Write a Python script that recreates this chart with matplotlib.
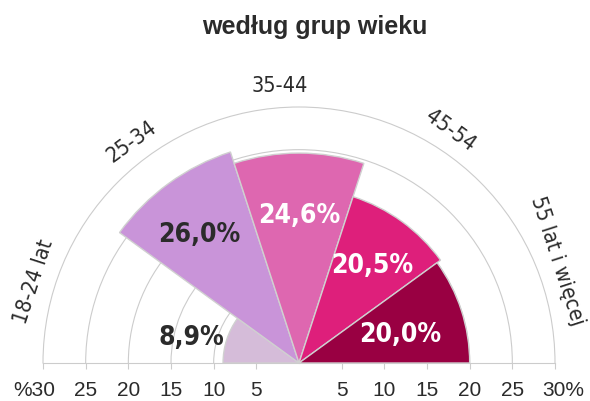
import numpy as np
import matplotlib as mpl
mpl.use('Agg')
import matplotlib.pyplot as plt
from matplotlib.markers import TICKDOWN

# data
groups = ['18-24 lat', '25-34', '35-44', '45-54', '55 lat i więcej']
values = [8.9, 26.0, 24.6, 20.5, 20.0]
value_labels = ['8,9%', '26,0%', '24,6%', '20,5%', '20,0%']
colors = ['#d5bcd9', '#c994d9', '#de67b0', '#de1f7b', '#990042']
label_colors = ['#2b2b2b', '#2b2b2b', 'white', 'white', 'white']
label_r = [12.9, 19.0, 17.2, 14.2, 12.3]
label_ang = [167, 128, 90, 53, 15.5]
group_ang = [163, 127, 94, 57, 21.5]
rticks = [5, 10, 15, 20, 25, 30]

plt.rcParams['font.family'] = ['Liberation Sans', 'DejaVu Sans']

W, H = 590, 401
fig = plt.figure(figsize=(W / 100, H / 100), dpi=100)
cx, cy, R = 299, 363, 256
# half-polar is centred vertically in a square box
ax = fig.add_axes([(cx - R) / W, (H - cy - R / 2) / H, 2 * R / W, 2 * R / H], projection='polar')
ax.set_thetamin(0)
ax.set_thetamax(180)
ax.set_ylim(0, 30)
ax.patch.set_visible(False)

n = len(values)
width = np.pi / n
theta = np.pi - width / 2 - width * np.arange(n)
ax.bar(theta, values, width=width, color=colors, edgecolor='#d0d0d0', linewidth=1.0, zorder=3)

ax.set_xticks([])
ax.set_yticks(rticks[:-1])
ax.set_yticklabels([])
ax.yaxis.grid(True, color='#cccccc', linewidth=0.8)
ax.xaxis.grid(False)
for s in ax.spines.values():
    s.set_color('#cccccc')
    s.set_linewidth(0.8)
ax.spines['inner'].set_visible(False)

# tick marks below baseline
tt = [0] * len(rticks) + [np.pi] * len(rticks)
ax.plot(tt, rticks + rticks, linestyle='none', marker=TICKDOWN, markersize=4,
        markeredgewidth=0.8, color='#cccccc', clip_on=False)

# baseline labels
for r in rticks:
    for t, side in [(0, 1), (np.pi, -1)]:
        if r == 30:
            txt = '30%' if side > 0 else '%30'
            ax.annotate(txt, (t, r), xytext=(side * 6, -20), textcoords='offset points',
                        ha='center', va='center', fontsize=15, color='#2b2b2b',
                        annotation_clip=False)
        else:
            ax.annotate(str(r), (t, r), xytext=(0, -20), textcoords='offset points',
                        ha='center', va='center', fontsize=15, color='#2b2b2b',
                        annotation_clip=False)

# category labels around the arc, turned along each wedge
for a, t, g in zip(group_ang, theta, groups):
    ax.text(np.radians(a), 32.5, g, rotation=np.degrees(t) - 90, rotation_mode='anchor',
            ha='center', va='center', fontsize=15.5, color='#2b2b2b', clip_on=False,
            family='DejaVu Sans', fontstretch='condensed')

# value labels
for a, r, s, c in zip(label_ang, label_r, value_labels, label_colors):
    ax.text(np.radians(a), r, s, ha='center', va='center', fontsize=19,
            fontweight='bold', color=c, family='DejaVu Sans', fontstretch='condensed',
            zorder=5)

fig.text(315 / W, 1 - 27 / H, 'według grup wieku', ha='center', va='center',
         fontsize=18, fontweight='bold', color='#2b2b2b')

fig.savefig('out.png', dpi=100)
